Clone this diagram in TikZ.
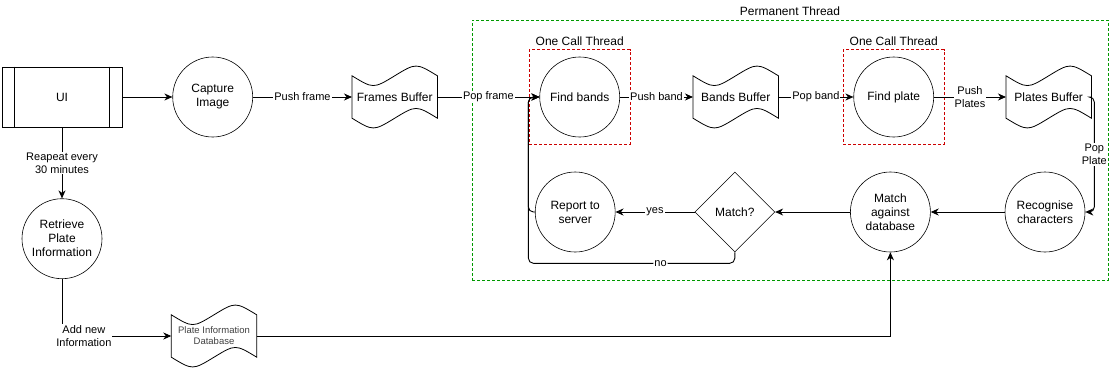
\documentclass[tikz,border=0pt]{standalone}
\usepackage{fontspec}
\setmainfont{Liberation Sans}
\usepackage{tikz}
\usetikzlibrary{arrows.meta,shapes,fit,positioning,calc}
\definecolor{threadred}{HTML}{CC0000}
\definecolor{threadgreen}{HTML}{009900}
\tikzstyle{every node}=[font=\fontsize{12}{14}\selectfont]
\tikzstyle{process}=[circle,draw,line width=0.6pt,minimum size=80pt,inner sep=0pt,align=center]
\tikzstyle{buffer}=[minimum width=85pt,minimum height=42pt,inner sep=2pt,align=center]
\tikzstyle{decision}=[diamond,draw,line width=0.6pt,minimum width=80pt,minimum height=80pt,inner sep=0pt]
\tikzstyle{flow}=[->,line width=0.9pt]
\tikzstyle{lbl}=[fill=white,inner sep=1pt,align=center,font=\fontsize{11}{13}\selectfont]
\tikzstyle{callthread}=[draw=threadred,line width=0.9pt,dash pattern=on 3pt off 2pt,inner xsep=10pt,inner ysep=7pt]
\tikzstyle{permthread}=[draw=threadgreen,line width=0.9pt,dash pattern=on 3pt off 2pt,inner sep=0pt]

\begin{document}
\begin{tikzpicture}[x=1pt,y=-1pt,>={Stealth[length=8pt,width=7pt,inset=2.5pt]}]
  \useasboundingbox (0,0) rectangle (1113,375);

  % top row: capture and search
  \node[draw,line width=0.8pt,minimum width=120pt,minimum height=60pt] (ui) at (62,97) {UI};
  \draw[line width=0.8pt] ([xshift=13pt]ui.north west) -- ([xshift=13pt]ui.south west);
  \draw[line width=0.8pt] ([xshift=-13pt]ui.north east) -- ([xshift=-13pt]ui.south east);
  \node[process, right=50pt of ui] (cap) {Capture\\Image};
  \node[buffer, right=99pt of cap] (fbuf) {Frames Buffer};
  \node[process, right=102pt of fbuf] (fband) {Find bands};
  \node[buffer, right=73pt of fband] (bbuf) {Bands Buffer};
  \node[process, right=75pt of bbuf] (fplate) {Find plate};
  \node[buffer, right=72pt of fplate] (pbuf) {Plates Buffer};

  % bottom row, right to left
  \node[process] (recog) at (1045,212) {Recognise\\characters};
  \node[process, left=74pt of recog] (mdb) {Match\\against\\database};
  \node[decision, left=75pt of mdb] (match) {Match?};
  \node[process, left=79pt of match] (report) {Report to\\server};

  % plate information
  \node[process, below=71pt of ui] (retr) {Retrieve\\Plate\\Information};
  \node[buffer, font=\fontsize{9.5}{11}\selectfont, text=black!75] (pdb) at (214,336) {Plate Information\\Database};

  % wavy tape outline round every buffer
  \foreach \b in {fbuf,bbuf,pbuf,pdb}
    \draw[line width=0.8pt] (\b.north west)
      .. controls ($(\b.north west)!0.25!(\b.north east)+(0,13)$) .. (\b.north)
      .. controls ($(\b.north west)!0.75!(\b.north east)+(0,-13)$) .. (\b.north east)
      -- (\b.south east)
      .. controls ($(\b.south west)!0.75!(\b.south east)+(0,-13)$) .. (\b.south)
      .. controls ($(\b.south west)!0.25!(\b.south east)+(0,13)$) .. (\b.south west)
      -- cycle;

  % threads
  \node[callthread, fit=(fband), label={above:One Call Thread}] (call1) {};
  \node[callthread, fit=(fplate), label={above:One Call Thread}] (call2) {};
  \node[permthread, fit={(472,20) (1108,280)}, label={above:Permanent Thread}] (perm) {};

  \draw[flow] (ui) -- (cap);
  \draw[flow] (cap) -- node[lbl]{Push frame} (fbuf);
  \draw[flow] (fbuf) -- node[lbl]{Pop frame} (fband);
  \draw[flow] (fband) -- node[lbl]{Push band} (bbuf);
  \draw[flow] (bbuf) -- node[lbl]{Pop band} (fplate);
  \draw[flow] (fplate) -- node[lbl]{Push\\Plates} (pbuf);
  \draw[flow,rounded corners=5pt] (pbuf.east) -| node[lbl,pos=0.75]{Pop\\Plate} ([xshift=9pt]recog.east) -- (recog.east);
  \draw[flow] (recog) -- (mdb);
  \draw[flow] (mdb) -- (match);
  \draw[flow] (match) -- node[lbl]{yes} (report);
  \draw[flow,rounded corners=5pt] (report.west) -| ([xshift=-11pt]fband.west) -- (fband.west);
  \draw[flow,rounded corners=5pt] (match.south) -- ++(0,11) -| node[lbl,pos=0.18]{no} ([xshift=-11pt]fband.west) -- (fband.west);

  \draw[flow] (ui) -- node[lbl]{Reapeat every\\30 minutes} (retr);
  \draw[flow] (retr) |- node[lbl,pos=0.6]{Add new\\Information} (pdb);
  \draw[flow] (pdb) -| (mdb);
\end{tikzpicture}
\end{document}
